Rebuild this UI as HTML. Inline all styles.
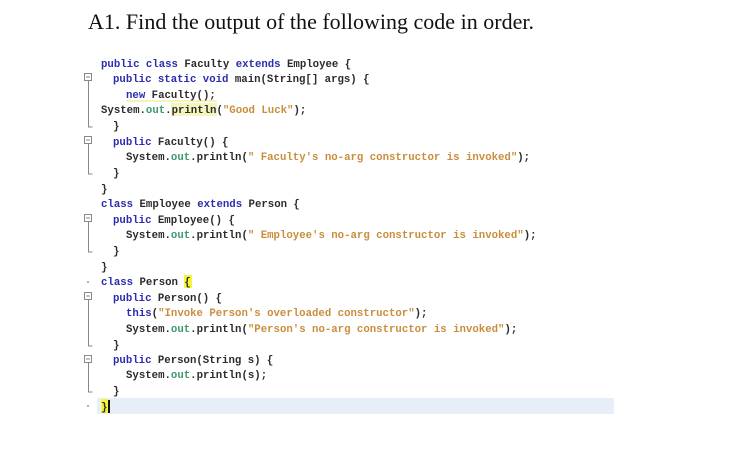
<!DOCTYPE html>
<html><head><meta charset="utf-8"><style>
html,body{margin:0;padding:0;background:#fff;width:750px;height:469px;overflow:hidden}
svg{display:block}
.c{font-family:"Liberation Mono",monospace;font-size:10.7px;font-weight:bold;fill:#2b2b2b}
.k{fill:#2c2cae}.o{fill:#3d9a6e}.s{fill:#c98d3c}
</style></head><body>
<svg width="750" height="469" xmlns="http://www.w3.org/2000/svg">
<text x="88" y="29" font-family="Liberation Serif,serif" font-size="22" fill="#111" textLength="446">A1. Find the output of the following code in order.</text>
<rect x="97" y="398" width="517" height="16" fill="#e8eef8"/>
<rect x="171" y="103" width="46" height="13" fill="#f4f6c0"/>
<rect x="184" y="275" width="8" height="13" fill="#f5f53a"/>
<rect x="101" y="399" width="7" height="14" fill="#f5f53a"/>
<rect x="108" y="400" width="2" height="13" fill="#111"/>
<line x1="126" y1="101" x2="217" y2="101" stroke="#f0f0a0" stroke-width="1.5"/>
<g fill="none" stroke="#888" stroke-width="1">
<rect x="84.5" y="73.5" width="7" height="7" fill="#fff"/><path d="M86 77h4M88.5 81v46h4"/>
<rect x="84.5" y="136.5" width="7" height="7" fill="#fff"/><path d="M86 140h4M88.5 144v30h4"/>
<rect x="84.5" y="214.5" width="7" height="7" fill="#fff"/><path d="M86 218h4M88.5 222v30h4"/>
<rect x="84.5" y="292.5" width="7" height="7" fill="#fff"/><path d="M86 296h4M88.5 300v46h4"/>
<rect x="84.5" y="355.5" width="7" height="7" fill="#fff"/><path d="M86 359h4M88.5 363v29h4"/>
</g>
<circle cx="88" cy="282" r="1" fill="#999"/><circle cx="88" cy="406" r="1" fill="#999"/>
<text class="c" xml:space="preserve">
<tspan x="101" y="67"><tspan class="k">public class</tspan> Faculty <tspan class="k">extends</tspan> Employee {</tspan>
<tspan x="113" y="82"><tspan class="k">public static void</tspan> main(String[] args) {</tspan>
<tspan x="126" y="98"><tspan class="k">new</tspan> Faculty();</tspan>
<tspan x="101" y="113">System.<tspan class="o">out</tspan>.println(<tspan class="s">"Good Luck"</tspan>);</tspan>
<tspan x="113" y="129">}</tspan>
<tspan x="113" y="145"><tspan class="k">public</tspan> Faculty() {</tspan>
<tspan x="126" y="160">System.<tspan class="o">out</tspan>.println(<tspan class="s">" Faculty's no-arg constructor is invoked"</tspan>);</tspan>
<tspan x="113" y="176">}</tspan>
<tspan x="101" y="192">}</tspan>
<tspan x="101" y="207"><tspan class="k">class</tspan> Employee <tspan class="k">extends</tspan> Person {</tspan>
<tspan x="113" y="223"><tspan class="k">public</tspan> Employee() {</tspan>
<tspan x="126" y="238">System.<tspan class="o">out</tspan>.println(<tspan class="s">" Employee's no-arg constructor is invoked"</tspan>);</tspan>
<tspan x="113" y="254">}</tspan>
<tspan x="101" y="270">}</tspan>
<tspan x="101" y="285"><tspan class="k">class</tspan> Person {</tspan>
<tspan x="113" y="301"><tspan class="k">public</tspan> Person() {</tspan>
<tspan x="126" y="316"><tspan class="k">this</tspan>(<tspan class="s">"Invoke Person's overloaded constructor"</tspan>);</tspan>
<tspan x="126" y="332">System.<tspan class="o">out</tspan>.println(<tspan class="s">"Person's no-arg constructor is invoked"</tspan>);</tspan>
<tspan x="113" y="348">}</tspan>
<tspan x="113" y="363"><tspan class="k">public</tspan> Person(String s) {</tspan>
<tspan x="126" y="378">System.<tspan class="o">out</tspan>.println(s);</tspan>
<tspan x="113" y="394">}</tspan>
<tspan x="101" y="410">}</tspan>
</text>
</svg>
</body></html>
